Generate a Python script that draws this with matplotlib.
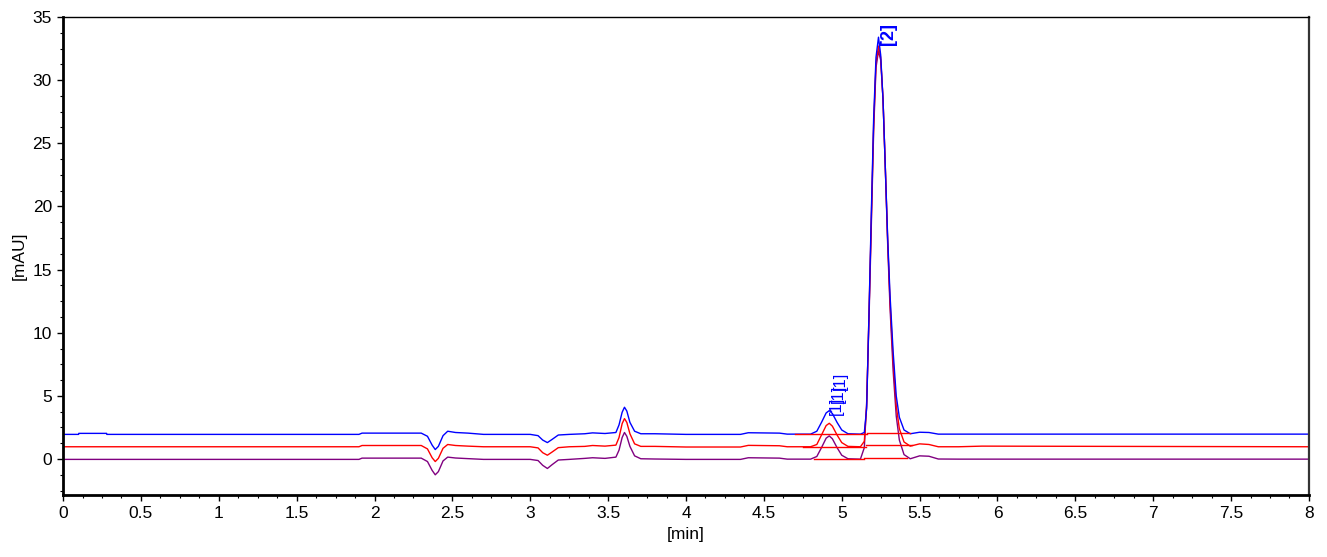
import matplotlib
matplotlib.use('Agg')
import matplotlib.pyplot as plt
from matplotlib.ticker import MultipleLocator

plt.rcParams['font.family'] = ['Liberation Sans', 'DejaVu Sans']

# Zaman ekseni (dakika) - üç kromatogram için ortak
time_min = [0.00, 0.10, 0.101, 0.28, 0.281, 1.90, 1.92, 2.30, 2.34, 2.37,
            2.39, 2.41, 2.44, 2.47, 2.52, 2.60, 2.70, 3.00, 3.05, 3.08,
            3.11, 3.14, 3.18, 3.25, 3.35, 3.40, 3.48, 3.55, 3.57, 3.59,
            3.605, 3.62, 3.64, 3.67, 3.71, 3.80, 4.00, 4.35, 4.40, 4.60,
            4.65, 4.80, 4.84, 4.87, 4.90, 4.92, 4.94, 4.97, 5.00, 5.04,
            5.12, 5.145, 5.16, 5.175, 5.19, 5.205, 5.22, 5.236, 5.25, 5.265,
            5.28, 5.295, 5.31, 5.33, 5.35, 5.37, 5.40, 5.44, 5.50, 5.56,
            5.62, 5.75, 5.90, 8.00]

blue_mau = [1.95, 1.95, 2.03, 2.03, 1.95, 1.95, 2.05, 2.05, 1.80, 1.10,
            0.75, 1.00, 1.85, 2.20, 2.10, 2.05, 1.95, 1.95, 1.85, 1.50,
            1.30, 1.55, 1.90, 1.95, 2.00, 2.07, 2.02, 2.10, 2.70, 3.70,
            4.10, 3.80, 2.90, 2.20, 2.00, 2.00, 1.95, 1.95, 2.08, 2.05,
            1.97, 1.97, 2.20, 2.90, 3.65, 3.83, 3.60, 2.90, 2.30, 2.00,
            1.97, 2.10, 4.00, 11.5, 19.5, 27.0, 31.8, 33.4, 32.0, 28.5,
            23.0, 17.5, 13.0, 8.50, 5.00, 3.30, 2.30, 2.00, 2.12, 2.10,
            1.97, 1.97, 1.97, 1.97]

red_mau = [0.97, 0.97, 0.97, 0.97, 0.97, 0.97, 1.07, 1.07, 0.80, 0.10,
           -0.20, 0.05, 0.85, 1.15, 1.07, 1.02, 0.97, 0.97, 0.88, 0.50,
           0.30, 0.55, 0.90, 0.97, 1.00, 1.07, 1.02, 1.10, 1.70, 2.80,
           3.20, 2.90, 2.00, 1.20, 1.00, 1.00, 0.95, 0.95, 1.08, 1.05,
           0.97, 0.97, 1.15, 1.90, 2.65, 2.83, 2.60, 1.90, 1.30, 1.00,
           0.97, 1.40, 4.20, 11.5, 19.0, 26.5, 31.3, 32.7, 31.8, 28.5,
           23.0, 17.3, 12.5, 7.80, 4.20, 2.40, 1.35, 1.02, 1.20, 1.15,
           0.97, 0.97, 1.02, 0.97]

purple_mau = [-0.03, -0.03, -0.03, -0.03, -0.03, -0.03, 0.07, 0.07, -0.20, -0.90,
              -1.25, -1.00, -0.15, 0.15, 0.08, 0.03, -0.03, -0.03, -0.12, -0.50,
              -0.75, -0.45, -0.08, -0.03, 0.05, 0.10, 0.05, 0.15, 0.70, 1.70,
              2.10, 1.80, 1.00, 0.25, 0.02, 0.00, -0.03, -0.03, 0.10, 0.07,
              -0.01, -0.01, 0.20, 0.90, 1.65, 1.83, 1.60, 0.90, 0.30, 0.02,
              -0.01, 0.90, 4.50, 11.0, 18.5, 26.0, 31.0, 32.3, 31.6, 28.5,
              23.0, 17.0, 12.0, 7.00, 3.40, 1.50, 0.35, 0.02, 0.25, 0.22,
              0.00, -0.01, -0.01, -0.01]

# İntegrasyon taban çizgileri: (başlangıç, bitiş, seviye)
blue_baselines = [(4.70, 5.165, 1.95), (5.165, 5.44, 2.08)]
red_baselines = [(4.75, 5.155, 0.97), (5.155, 5.45, 1.08)]
purple_baselines = [(4.82, 5.14, -0.01), (5.14, 5.42, 0.09)]

# Pik etiketleri: (zaman, yükseklik, metin, punto)
peak_labels = [(4.920, 3.45, '[1]', 12), (4.932, 4.45, '[1]', 12),
               (4.944, 5.45, '[1]', 12), (5.244, 32.75, '[2]', 13)]

fig = plt.figure(figsize=(13.27, 5.57), dpi=100)
ax = fig.add_axes([0.0475, 0.1113, 0.9389, 0.8582])

ax.plot(time_min, purple_mau, color='#800080', lw=1.0)
ax.plot(time_min, red_mau, color='#ff0000', lw=1.0)
ax.plot(time_min, blue_mau, color='#0000ff', lw=1.0)

for bl in (blue_baselines, red_baselines, purple_baselines):
    for x0, x1, lvl in bl:
        ax.plot([x0, x1], [lvl, lvl], color='#ff0000', lw=1.0)

for x, y, s, fs in peak_labels:
    ax.text(x, y, s, color='#0000ff', fontsize=fs, rotation=90,
            ha='left', va='bottom',
            fontweight='bold' if s == '[2]' else 'normal')

ax.set_xlim(0, 8)
ax.set_ylim(-2.85, 35)
ax.xaxis.set_major_locator(MultipleLocator(0.5))
ax.xaxis.set_minor_locator(MultipleLocator(0.125))
ax.yaxis.set_major_locator(MultipleLocator(5))
ax.yaxis.set_minor_locator(MultipleLocator(1.25))
ax.xaxis.set_major_formatter(plt.FuncFormatter(lambda v, p: f'{v:g}'))
ax.tick_params(which='major', length=4, width=1, labelsize=12.5, pad=4)
ax.tick_params(which='minor', length=2.5, width=0.8)

for side in ('left', 'bottom'):
    ax.spines[side].set_linewidth(2)
ax.spines['right'].set_linewidth(1.6)
ax.spines['right'].set_color('#333333')
ax.spines['top'].set_linewidth(1)

ax.set_xlabel('[min]', fontsize=12.5, labelpad=4)
ax.set_ylabel('[mAU]', fontsize=12.5, labelpad=4)

plt.savefig('out.png', dpi=100)
